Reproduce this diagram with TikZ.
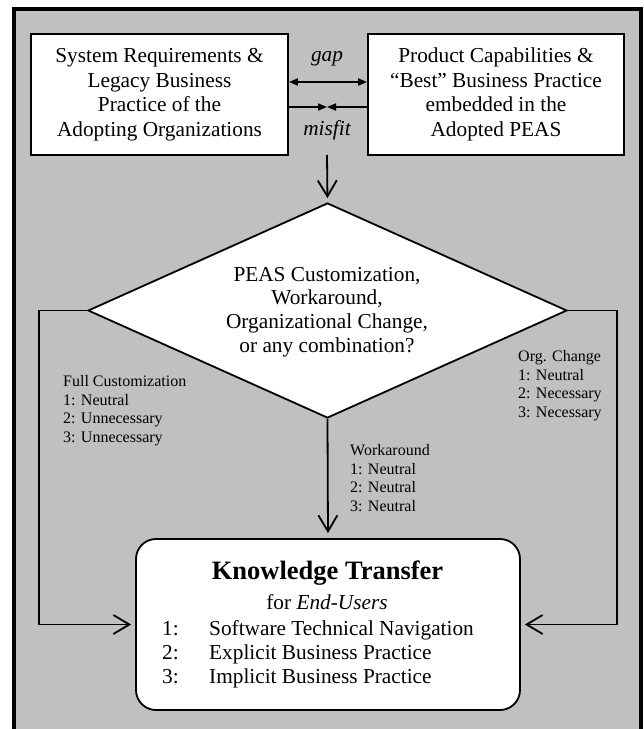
\documentclass[tikz,border=0pt]{standalone}
\usepackage{fontspec}
\setmainfont{Liberation Serif}
\usetikzlibrary{arrows.meta,shapes.geometric}
\definecolor{panel}{RGB}{192,192,192}
\begin{document}
\begin{tikzpicture}[x=1pt,y=-1pt,
  bodyfont/.style={font=\fontsize{21.3}{24.5}\selectfont},
  italfont/.style={font={\fontsize{21.3}{24.5}\selectfont\itshape}},
  whitebox/.style={draw, fill=white, line width=1.8pt, inner sep=0pt},
  boxtext/.style={bodyfont, align=center},
  branchnote/.style={font=\fontsize{16}{18.7}\selectfont, align=left, inner sep=0pt, anchor=north west},
  openarrow/.style={line width=1.8pt, -{Straight Barb[length=16pt,width=19pt]}},
  solidtip/.style={line width=1.8pt},
  tri/.tip={Triangle[length=9pt,width=7pt]}
]
\useasboundingbox (0,0) rectangle (644,729);
\clip (0,0) rectangle (644,729);

% grey panel (its lower edge runs past the page)
\draw[line width=4.5pt, fill=panel] (14,9) rectangle (641,760);

% the two compared sides
\node[whitebox, boxtext, minimum width=257pt, minimum height=121pt] (req) at (159.5,94.5)
  {System Requirements \&\\Legacy Business\\Practice of the\\Adopting Organizations};
\node[whitebox, boxtext, minimum width=256pt, minimum height=121pt] (prod) at (496,94.5)
  {Product Capabilities \&\\“Best” Business Practice\\embedded in the\\Adopted PEAS};

% gap / misfit arrows between the boxes
\node[italfont, inner sep=0pt] (gaplbl) at (327,59) {gap};
\draw[solidtip, tri-tri] ([yshift=12.5pt]req.east) -- ([yshift=12.5pt]prod.west);
\coordinate (meet) at (327,107);
\draw[solidtip, -tri] ([yshift=-12.5pt]req.east) -- (meet);
\draw[solidtip, -tri] ([yshift=-12.5pt]prod.west) -- (meet);
\node[italfont, inner sep=0pt] (misfitlbl) at (327,130) {misfit};

% decision
\coordinate (drop) at (327,155);
\node[diamond, draw, fill=white, line width=1.8pt, minimum width=479pt, minimum height=215pt, inner sep=0pt]
  (choice) at (327.5,310.5) {};
\node[font=\fontsize{21.3}{23.7}\selectfont, align=center, inner sep=0pt] (choicetext) at (327,312)
  {PEAS Customization,\\Workaround,\\Organizational Change,\\or any combination?};
\draw[openarrow, shorten >=4pt] (drop) -- (choice.north);

% knowledge transfer box
\node[whitebox, rounded corners=20pt, minimum width=384pt, minimum height=171pt] (kt) at (328,624.5) {};
\node[font=\bfseries\fontsize{26.5}{30}\selectfont, inner sep=0pt] (kttitle) at (327.5,573) {Knowledge Transfer};
\node[bodyfont, inner sep=0pt] (ktfor) at (327,602) {for \textit{End-Users}};
\node[font=\fontsize{21.3}{24}\selectfont, align=left, inner sep=0pt, anchor=north west] (ktlist) at (162,620)
  {\makebox[47pt][l]{1:}Software Technical Navigation\\
   \makebox[47pt][l]{2:}Explicit Business Practice\\
   \makebox[47pt][l]{3:}Implicit Business Practice};

% three routes
\draw[openarrow, shorten >=4pt] (choice.west) -- ++(-48,0) |- (kt.west);
\draw[openarrow, shorten >=4pt] (choice.east) -- ++(49,0) |- (kt.east);
\draw[openarrow, shorten >=5pt] (choice.south) -- (kt.north);

\node[branchnote] (fullnote) at (63,375) {Full Customization\\1: Neutral\\2: Unnecessary\\3: Unnecessary};
\node[branchnote] (orgnote) at (518,350) {Org. Change\\1: Neutral\\2: Necessary\\3: Necessary};
\node[branchnote] (worknote) at (350,444) {Workaround\\1: Neutral\\2: Neutral\\3: Neutral};
\end{tikzpicture}
\end{document}
